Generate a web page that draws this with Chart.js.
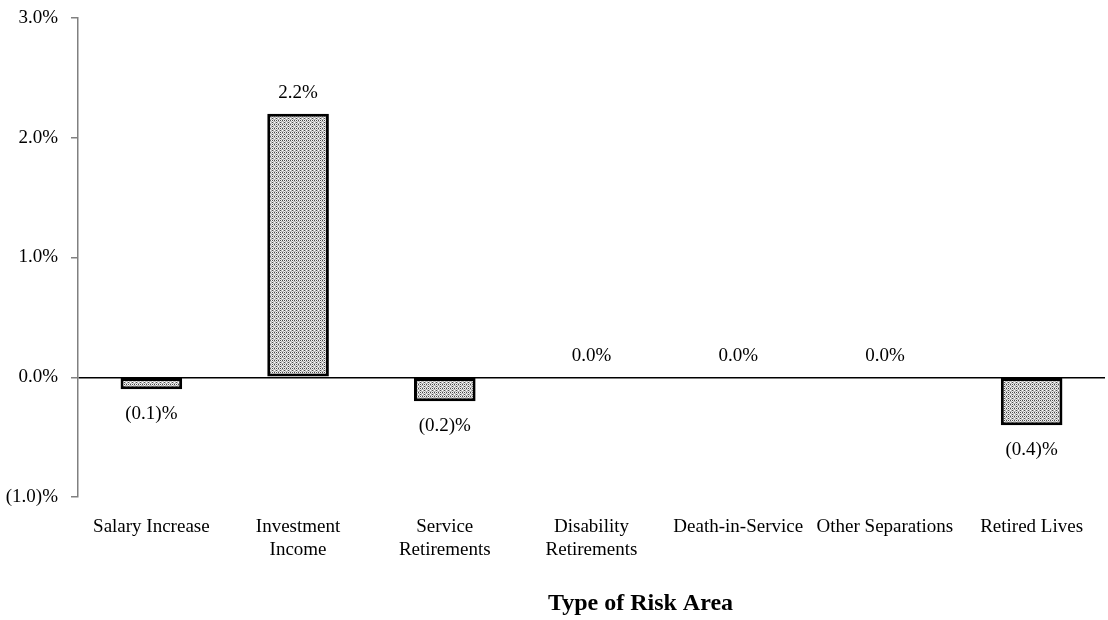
<!DOCTYPE html>
<html>
<head>
<meta charset="utf-8">
<script src="https://cdn.jsdelivr.net/npm/chart.js@4/dist/chart.umd.min.js"></script>
<style>
  html, body { margin: 0; padding: 0; background: #fff; }
  #wrap { width: 1108px; height: 620px; }
</style>
</head>
<body>
<div id="wrap"><canvas id="c" width="1108" height="620"></canvas></div>
<script>
// Risk areas and their gain/(loss) as a percent of liabilities
const categories = [
  'Salary Increase',
  ['Investment', 'Income'],
  ['Service', 'Retirements'],
  ['Disability', 'Retirements'],
  'Death-in-Service',
  'Other Separations',
  'Retired Lives'
];
const values = [-0.1, 2.2, -0.2, 0.0, 0.0, 0.0, -0.4];
const yTicks = [-1, 0, 1, 2, 3];
const axisTitle = 'Type of Risk Area';

const SERIF = '"Liberation Serif", "Times New Roman", serif';
const FONT_SIZE = 19;

function fmtPct(v) {
  const s = Math.abs(v).toFixed(1);
  return v < 0 ? '(' + s + ')%' : s + '%';
}

// Stippled gray fill for the bars
function makePattern() {
  const p = document.createElement('canvas');
  p.width = 8; p.height = 8;
  const g = p.getContext('2d');
  g.fillStyle = '#bcbcbc';
  g.fillRect(0, 0, 8, 8);
  for (let y = 0; y < 8; y++) {
    for (let x = 0; x < 8; x++) {
      const onCol = x % 4 === 0, onRow = y % 4 === 0;
      if (onCol || onRow) {
        const dark = onCol ? (y % 2 === 0) : (x % 2 === 0);
        g.fillStyle = dark ? '#4a4a4a' : '#f4f4f4';
        g.fillRect(x, y, 1, 1);
      } else if (x % 4 === 2 && y % 4 === 2) {
        g.fillStyle = '#ffffff';
        g.fillRect(x, y, 1, 1);
      }
    }
  }
  return g.createPattern(p, 'repeat');
}

const ctx = document.getElementById('c').getContext('2d');
const fill = makePattern();

// Value labels: above the bar for zero/positive, below for negative
const valueLabels = {
  id: 'valueLabels',
  afterDatasetsDraw(chart) {
    const c = chart.ctx;
    const meta = chart.getDatasetMeta(0);
    c.save();
    c.font = FONT_SIZE + 'px ' + SERIF;
    c.fillStyle = '#000';
    c.textAlign = 'center';
    c.textBaseline = 'middle';
    meta.data.forEach((bar, i) => {
      const v = values[i];
      const y = v < 0 ? bar.y + 25 : bar.y - 21;
      c.fillText(fmtPct(v), bar.x, y);
    });
    c.restore();
  }
};

// Category axis title, set a little right of the plot centre
const axisTitlePlugin = {
  id: 'axisTitle',
  afterDraw(chart) {
    const c = chart.ctx;
    const area = chart.chartArea;
    c.save();
    c.font = 'bold 24px ' + SERIF;
    c.fillStyle = '#000';
    c.textAlign = 'center';
    c.textBaseline = 'middle';
    c.fillText(axisTitle, (area.left + area.right) / 2 + 49, chart.height - 16);
    c.restore();
  }
};

new Chart(ctx, {
  type: 'bar',
  data: {
    labels: categories,
    datasets: [{
      data: values,
      backgroundColor: values.map(v => v === 0 ? 'transparent' : fill),
      borderColor: values.map(v => v === 0 ? 'transparent' : '#000'),
      borderWidth: 3,
      borderSkipped: false,
      categoryPercentage: 1,
      barPercentage: 0.42
    }]
  },
  options: {
    responsive: false,
    animation: false,
    devicePixelRatio: 1,
    layout: { padding: { top: 18, right: 3, left: 0, bottom: 0 } },
    plugins: { legend: { display: false }, tooltip: { enabled: false } },
    scales: {
      x: {
        grid: { display: false, drawTicks: false },
        border: { display: false },
        ticks: {
          color: '#000',
          font: { family: SERIF, size: FONT_SIZE },
          padding: 19,
          maxRotation: 0,
          autoSkip: false
        },
        afterFit(scale) { scale.height = 123; }
      },
      y: {
        min: -1,
        max: 3,
        afterBuildTicks(scale) { scale.ticks = yTicks.map(v => ({ value: v })); },
        ticks: {
          color: '#000',
          font: { family: SERIF, size: FONT_SIZE },
          padding: 13,
          callback: v => fmtPct(v)
        },
        grid: {
          drawOnChartArea: true,
          color: c => (c.tick && c.tick.value === 0) ? '#000' : 'transparent',
          lineWidth: 1.5,
          tickColor: '#808080',
          tickLength: 7,
          tickWidth: 1.5
        },
        border: { display: true, color: '#808080', width: 1.5 },
        afterFit(scale) {
          scale.width = 78;
          scale.paddingTop = 0;
          scale.paddingBottom = 0;
        }
      }
    }
  },
  plugins: [valueLabels, axisTitlePlugin]
});
</script>
</body>
</html>
